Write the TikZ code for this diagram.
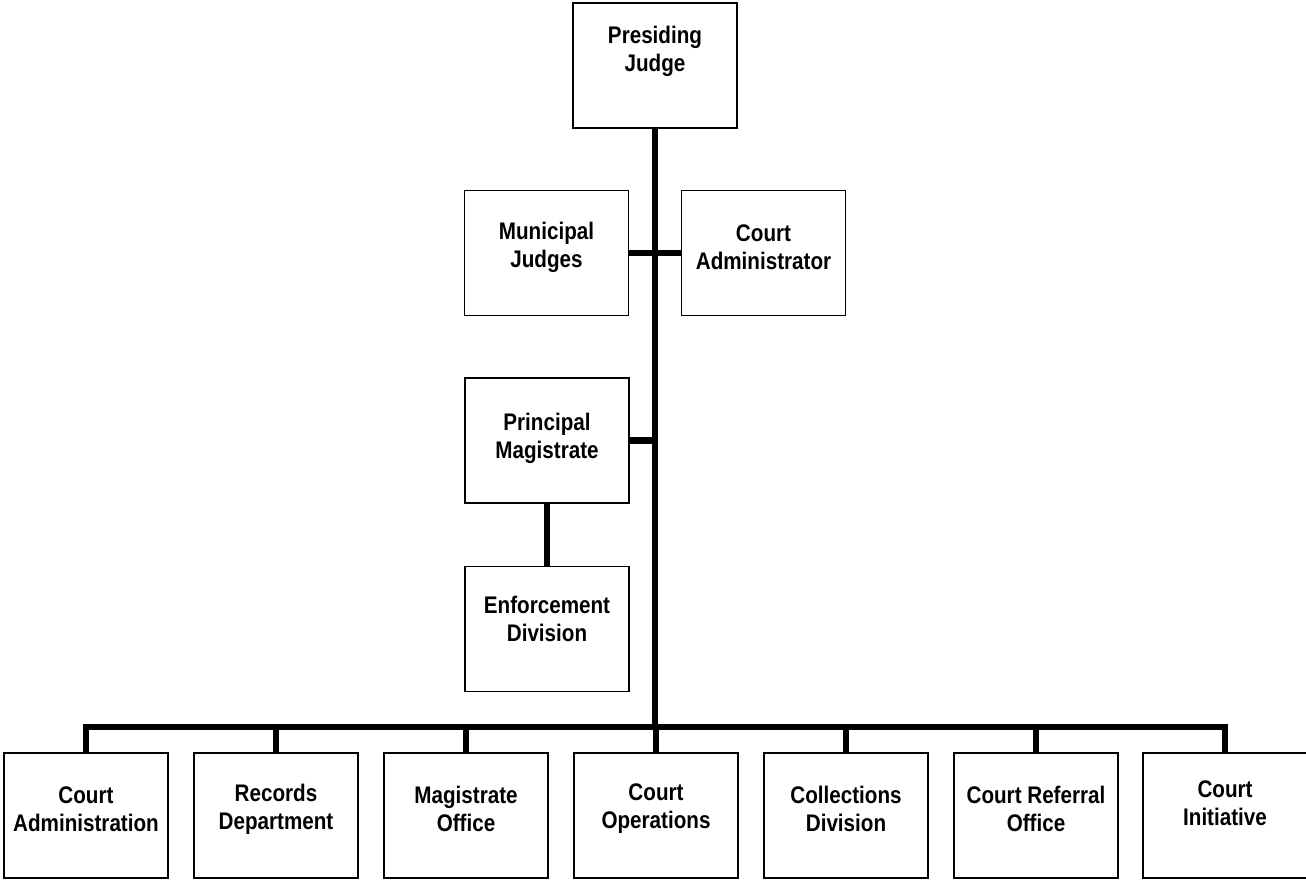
\documentclass[tikz,border=0pt]{standalone}
\usepackage{fontspec}
\setmainfont[FakeStretch=0.86]{Liberation Sans}
\begin{document}
\begin{tikzpicture}[x=1pt,y=-1pt,
  box/.style={draw, line width=1.6pt, fill=white, minimum width=164pt, minimum height=125pt, inner sep=0pt},
  lbl/.style={font=\fontsize{24}{28}\selectfont\bfseries, align=center, inner sep=0pt},
  conn/.style={line width=6.5pt, line join=miter}]
\useasboundingbox (0,0) rectangle (1306,879);
% upper boxes
\node[box] (pj) at (655,65.5) {};
\node[lbl] (pjt) at (655,51) {Presiding\\Judge};
\node[box] (mj) at (546.5,253) {};
\node[lbl] (mjt) at (546.5,247.5) {Municipal\\Judges};
\node[box] (ca) at (763.5,253) {};
\node[lbl] (cat) at (763.5,247.5) {Court\\Administrator};
\node[box] (pm) at (547,440.5) {};
\node[lbl] (pmt) at (547,438.5) {Principal\\Magistrate};
\node[box] (ed) at (547,629) {};
\node[lbl] (edt) at (547,618.5) {Enforcement\\Division};
% bottom boxes
\node[box] (b1) at (86,815.5) {};
\node[lbl] (b1t) at (86,809) {Court\\Administration};
\node[box] (b2) at (276,815.5) {};
\node[lbl] (b2t) at (276,809) {Records\\Department};
\node[box] (b3) at (466,815.5) {};
\node[lbl] (b3t) at (466,809) {Magistrate\\Office};
\node[box] (b4) at (656,815.5) {};
\node[lbl] (b4t) at (656,809) {Court\\Operations};
\node[box] (b5) at (846,815.5) {};
\node[lbl] (b5t) at (846,809) {Collections\\Division};
\node[box] (b6) at (1036,815.5) {};
\node[lbl] (b6t) at (1036,809) {Court Referral\\Office};
\node[box] (b7) at (1225,815.5) {};
\node[lbl] (b7t) at (1225,803) {Court\\Initiative};
% connectors
\coordinate (bus) at (655,727);
\draw[conn] (pj.south) -- (bus);
\draw[conn] (mj.east) -- (ca.west);
\draw[conn] (pm.east) -- (pm.east -| bus);
\draw[conn] (pm.south) -- (ed.north);
\draw[conn] (b1.north) |- (bus) -| (b7.north);
\draw[conn] (b2.north) -- (b2.north |- bus);
\draw[conn] (b3.north) -- (b3.north |- bus);
\draw[conn] (b4.north) -- (b4.north |- bus);
\draw[conn] (b5.north) -- (b5.north |- bus);
\draw[conn] (b6.north) -- (b6.north |- bus);
\end{tikzpicture}
\end{document}
